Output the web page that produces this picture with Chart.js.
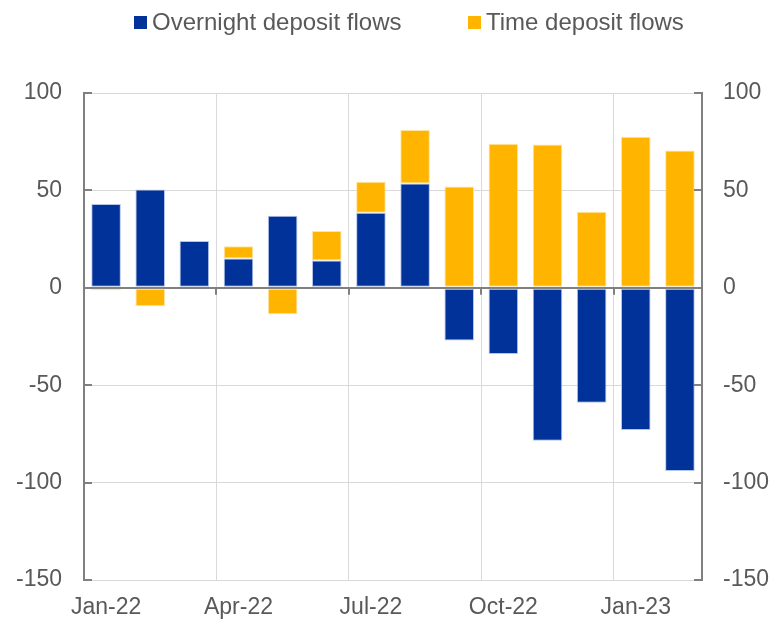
<!DOCTYPE html>
<html>
<head>
<meta charset="utf-8">
<script src="https://cdn.jsdelivr.net/npm/chart.js@4/dist/chart.umd.min.js"></script>
<style>
  html, body { margin: 0; padding: 0; background: #ffffff; }
  #wrap { position: relative; width: 773px; height: 621px; }
  #legend { position: absolute; top: 8px; left: 0; height: 28px; font-family: "Liberation Sans", Arial, sans-serif;
            font-size: 24px; color: #595959; }
  .item { position: absolute; top: 0; display: flex; align-items: center; height: 28px; white-space: nowrap; }
  .box { display: inline-block; width: 13px; height: 13px; margin-right: 5px; }
</style>
</head>
<body>
<div id="wrap">
  <canvas id="flows" width="773" height="621"></canvas>
  <div id="legend"></div>
</div>
<script>
var months = ['Jan-22', 'Feb-22', 'Mar-22', 'Apr-22', 'May-22', 'Jun-22', 'Jul-22',
              'Aug-22', 'Sep-22', 'Oct-22', 'Nov-22', 'Dec-22', 'Jan-23', 'Feb-23'];
var overnightFlows = [43, 50.5, 24, 15, 37, 14, 38.5, 53.5, -27, -34, -78.5, -59, -73, -94];
var timeFlows = [-1.3, -9.5, 0, 6.3, -13.6, 15.2, 15.9, 27.5, 52, 74, 73.5, 39, 77.5, 70.5];
var yTicks = [-150, -100, -50, 0, 50, 100];

Chart.defaults.font.family = '"Liberation Sans", Arial, sans-serif';
Chart.defaults.font.size = 23;
Chart.defaults.color = '#595959';

var axisGrey = '#808080';
var gridGrey = '#d9d9d9';

// excel style inside tick marks on both value axes and on the zero line
var tickMarks = {
    id: 'tickMarks',
    afterDatasetsDraw: function (chart) {
        var c = chart.ctx;
        var area = chart.chartArea;
        var y = chart.scales.y;
        var x = chart.scales.x;
        c.save();
        c.strokeStyle = axisGrey;
        c.lineWidth = 2;
        yTicks.forEach(function (v) {
            var py = Math.round(y.getPixelForValue(v));
            c.beginPath();
            c.moveTo(area.left, py);
            c.lineTo(area.left + 8, py);
            c.moveTo(area.right - 8, py);
            c.lineTo(area.right, py);
            c.stroke();
        });
        var y0 = y.getPixelForValue(0);
        var half = (x.getPixelForValue(1) - x.getPixelForValue(0)) / 2;
        months.forEach(function (m, i) {
            if (i % 3 === 0 && i > 0) {
                var px = Math.round(x.getPixelForValue(i) - half);
                c.beginPath();
                c.moveTo(px, y0);
                c.lineTo(px, y0 + 7);
                c.stroke();
            }
        });
        c.restore();
    }
};

var ctx = document.getElementById('flows').getContext('2d');
var flowChart = new Chart(ctx, {
    type: 'bar',
    data: {
        labels: months,
        datasets: [{
            label: 'Overnight deposit flows',
            data: overnightFlows,
            backgroundColor: '#003299',
            borderColor: 'rgba(170,190,230,0.9)',
            borderWidth: 1,
            borderSkipped: false,
            barPercentage: 0.67,
            categoryPercentage: 1,
        }, {
            label: 'Time deposit flows',
            data: timeFlows,
            backgroundColor: '#ffb400',
            borderColor: 'rgba(255,225,150,0.9)',
            borderWidth: 1,
            borderSkipped: false,
            barPercentage: 0.67,
            categoryPercentage: 1,
        }],
    },
    options: {
        responsive: false,
        animation: false,
        layout: { padding: { top: 93, left: 0, right: 0, bottom: 0 } },
        plugins: {
            legend: { display: false },
            tooltip: { enabled: false },
        },
        scales: {
            x: {
                stacked: true,
                grid: {
                    offset: true,
                    drawTicks: false,
                    color: function (c) {
                        return (c.index % 3 === 0 && c.index > 0 && c.index < months.length) ? gridGrey : 'rgba(0,0,0,0)';
                    },
                },
                border: { display: false },
                ticks: {
                    autoSkip: false,
                    maxRotation: 0,
                    padding: 14,
                    callback: function (val, i) {
                        return i % 3 === 0 ? months[i] : '';
                    },
                },
                afterFit: function (scale) { scale.height = 41; },
            },
            y: {
                stacked: true,
                min: -150,
                max: 100,
                position: 'left',
                afterBuildTicks: function (scale) {
                    scale.ticks = yTicks.map(function (v) { return { value: v }; });
                },
                grid: {
                    drawTicks: false,
                    color: function (c) { return c.tick.value === 0 ? axisGrey : gridGrey; },
                    lineWidth: function (c) { return c.tick.value === 0 ? 2 : 1; },
                },
                border: { color: axisGrey, width: 2 },
                ticks: { padding: 22 },
                afterFit: function (scale) { scale.width = 84; },
            },
            y2: {
                min: -150,
                max: 100,
                position: 'right',
                afterBuildTicks: function (scale) {
                    scale.ticks = yTicks.map(function (v) { return { value: v }; });
                },
                grid: { drawOnChartArea: false, drawTicks: false },
                border: { color: axisGrey, width: 2 },
                ticks: { padding: 21 },
                afterFit: function (scale) { scale.width = 71; },
            },
        },
    },
    plugins: [tickMarks],
});

// html legend built from the chart's datasets
var legendLeft = [134, 468];
var legendEl = document.getElementById('legend');
flowChart.data.datasets.forEach(function (ds, i) {
    var item = document.createElement('div');
    item.className = 'item';
    item.style.left = legendLeft[i] + 'px';
    var box = document.createElement('span');
    box.className = 'box';
    box.style.background = ds.backgroundColor;
    item.appendChild(box);
    item.appendChild(document.createTextNode(ds.label));
    legendEl.appendChild(item);
});
</script>
</body>
</html>
